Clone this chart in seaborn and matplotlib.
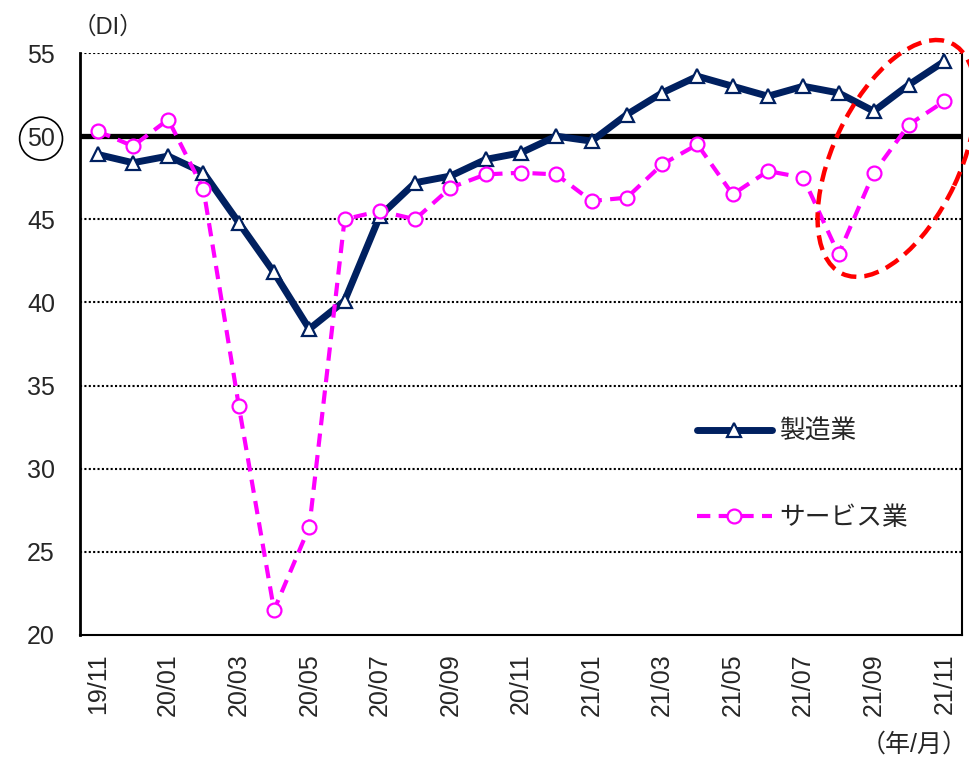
import matplotlib
matplotlib.use("Agg")
import matplotlib.pyplot as plt
import numpy as np
import pandas as pd
import seaborn as sns
from matplotlib.patches import Ellipse

# Monthly DI, Nov 2019 - Nov 2021
months = ["19/11", "19/12",
          "20/01", "20/02", "20/03", "20/04", "20/05", "20/06",
          "20/07", "20/08", "20/09", "20/10", "20/11", "20/12",
          "21/01", "21/02", "21/03", "21/04", "21/05", "21/06",
          "21/07", "21/08", "21/09", "21/10", "21/11"]
manufacturing = [48.9, 48.4, 48.8, 47.8, 44.8, 41.8, 38.4, 40.1, 45.2, 47.2,
                 47.6, 48.6, 49.0, 50.0, 49.7, 51.3, 52.6, 53.6, 53.0, 52.4,
                 53.0, 52.6, 51.5, 53.1, 54.5]
services = [50.3, 49.4, 51.0, 46.8, 33.8, 21.5, 26.5, 45.0, 45.5, 45.0,
            46.9, 47.7, 47.8, 47.7, 46.1, 46.3, 48.3, 49.5, 46.5, 47.9,
            47.5, 42.9, 47.8, 50.7, 52.1]
series_names = ["製造業", "サービス業"]
y_ticks = [20, 25, 30, 35, 40, 45, 50, 55]
x_tick_labels = months[::2]

sns.set_style("white")
plt.rcParams["font.family"] = ["Liberation Sans", "Noto Sans CJK JP", "DejaVu Sans"]

W, H = 969, 757
fig = plt.figure(figsize=(W / 100, H / 100), dpi=100)
ax = fig.add_axes([80 / W, (H - 635) / H, (962 - 80) / W, (635 - 53) / H])

pos = np.arange(len(months))
df = pd.DataFrame({"pos": pos, "mfg": manufacturing, "svc": services})

NAVY = "#002060"
MAGENTA = "#FF00FF"

sns.lineplot(data=df, x="pos", y="mfg", ax=ax, color=NAVY, lw=5,
             marker="^", markersize=10, markerfacecolor="white",
             markeredgecolor=NAVY, markeredgewidth=1.6,
             label=series_names[0], zorder=4, solid_capstyle="round")
sns.lineplot(data=df, x="pos", y="svc", ax=ax, color=MAGENTA, lw=3,
             linestyle=(0, (3.2, 2.0)),
             marker="o", markersize=10, markerfacecolor="white",
             markeredgecolor=MAGENTA, markeredgewidth=1.6,
             label=series_names[1], zorder=5)

ax.set_xlim(-0.5, len(months) - 0.5)
ax.set_ylim(y_ticks[0], y_ticks[-1])
ax.set_yticks(y_ticks)
ax.set_xticks(pos[::2])
ax.set_xticklabels(x_tick_labels, rotation=90, fontsize=18)
ax.tick_params(axis="y", labelsize=18, length=0, pad=18)
ax.tick_params(axis="x", length=0, pad=13)
ax.set_xlabel("")
ax.set_ylabel("")

# dotted guide lines, heavy reference line at 50
for v in y_ticks[1:]:
    if v == 50:
        ax.axhline(v, color="black", lw=3.8, zorder=3)
    else:
        ax.axhline(v, color="black", lw=1.5, linestyle=(0, (1, 1.1)), zorder=1)

ax.spines["top"].set_visible(False)
for s in ("left", "bottom", "right"):
    ax.spines[s].set_color("black")
    ax.spines[s].set_linewidth(1.5)
ax.spines["left"].set_linewidth(2)

# circle the 50 tick label
for lbl in ax.get_yticklabels():
    if lbl.get_text() == "50":
        lbl.set_bbox(dict(boxstyle="circle,pad=0.3", fc="none", ec="black", lw=1.2))

ax.legend(loc="upper left", bbox_to_anchor=(697 / W, 1 - 420 / H),
          bbox_transform=fig.transFigure, frameon=False, fontsize=18.5,
          handlelength=2.9, handletextpad=0.3, labelspacing=2.4,
          borderpad=0, borderaxespad=0)

fig.text(108 / W, 1 - 27 / H, "（DI）", fontsize=17, ha="center", va="center")
fig.text(968 / W, 1 - 745 / H, "（年/月）", fontsize=18, ha="right", va="center")

# dashed red ellipse around the latest months
fig.canvas.draw()
cx, cy = ax.transData.transform((22.65, 48.66))
ring = Ellipse((cx, cy), width=255, height=127, angle=64.7, fill=False,
               ec="#FF0000", lw=3.2, linestyle=(0, (3.4, 1.8)),
               transform=None, clip_on=False, zorder=6)
fig.add_artist(ring)

fig.savefig("out.png", dpi=100)
